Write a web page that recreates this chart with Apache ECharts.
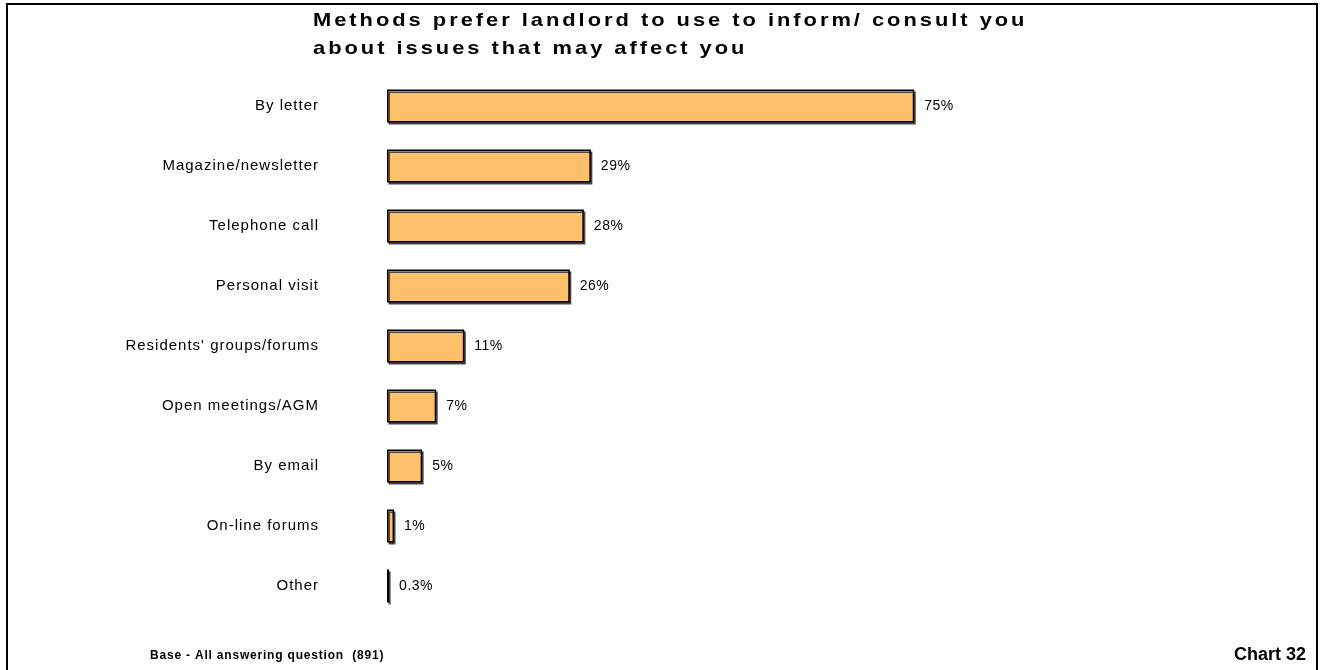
<!DOCTYPE html>
<html><head><meta charset="utf-8">
<script src="https://cdn.jsdelivr.net/npm/echarts@6/dist/echarts.min.js"></script>
<style>html,body{margin:0;padding:0;background:#fff}#c{width:1323px;height:670px}</style>
</head><body><div id="c"></div>
<script>
const categories = ["By letter","Magazine/newsletter","Telephone call","Personal visit","Residents' groups/forums","Open meetings/AGM","By email","On-line forums","Other"];
const values = [75,29,28,26,11,7,5,1,0.3];
const valueLabels = ["75%","29%","28%","26%","11%","7%","5%","1%","0.3%"];
const titleLines = ["Methods prefer landlord to use to inform/ consult you","about issues that may affect you"];
const baseText = "Base - All answering question  (891)";
const chartText = "Chart 32";

// letter spacing per font size (the reference uses tracked text)
const spacingBySize = {"19px":"2.6px","15px":"1px","14px":"0.5px","12px":"0.8px"};
(function(){
  const P = CanvasRenderingContext2D.prototype;
  const orig = P.fillText;
  P.fillText = function(t,x,y,w){
    if ('letterSpacing' in this) {
      const m = /(\d+(?:\.\d+)?px)/.exec(this.font||'');
      this.letterSpacing = (m && spacingBySize[m[1]]) || '0px';
    }
    return w===undefined ? orig.call(this,t,x,y) : orig.call(this,t,x,y,w);
  };
})();

const chart = echarts.init(document.getElementById('c'));
const font = "'Liberation Sans', Arial, sans-serif";
chart.setOption({
  animation:false,
  graphic:[
    {type:'rect',shape:{x:7,y:4,width:1310,height:700},style:{fill:'none',stroke:'#000',lineWidth:2}},
    {type:'text',x:313,y:7,scaleX:1.15,style:{text:titleLines.join('\n'),font:"bold 19px "+font,fill:'#000',lineHeight:28}},
    {type:'text',left:150,top:650,style:{text:baseText,font:"bold 12px "+font,fill:'#000'}},
    {type:'text',right:17,top:646,style:{text:chartText,font:"bold 18px "+font,fill:'#000'}}
  ],
  grid:{left:387,top:76,width:703,height:540,containLabel:false},
  xAxis:{type:'value',min:0,max:100,show:false},
  yAxis:{type:'category',data:categories,inverse:true,
    axisLine:{show:false},axisTick:{show:false},splitLine:{show:false},
    axisLabel:{margin:68,fontSize:15,fontFamily:font,color:'#000'}},
  series:[{type:'bar',data:values,barWidth:33,
    itemStyle:{color:'#FFC06B',borderColor:'#000',borderWidth:1.5,shadowColor:'rgba(60,60,60,0.9)',shadowOffsetX:1.5,shadowOffsetY:2},
    label:{show:true,position:'right',distance:10,fontSize:14,fontFamily:font,color:'#000',
      formatter:p=>valueLabels[p.dataIndex]}}]
});
</script></body></html>
